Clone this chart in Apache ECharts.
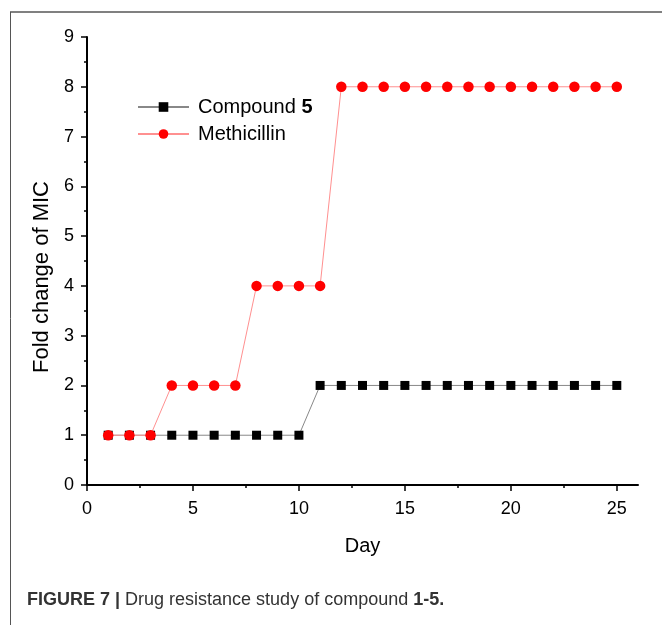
<!DOCTYPE html>
<html>
<head>
<meta charset="utf-8">
<script src="https://cdn.jsdelivr.net/npm/echarts@6/dist/echarts.min.js"></script>
<style>
  html, body { margin: 0; padding: 0; background: #fff; }
  #chart { width: 662px; height: 625px; }
</style>
</head>
<body>
<div id="chart"></div>
<script>
// days and fold change of MIC
var days = [1, 2, 3, 4, 5, 6, 7, 8, 9, 10, 11, 12, 13, 14, 15, 16, 17, 18, 19, 20, 21, 22, 23, 24, 25];
var compound5 = [1, 1, 1, 1, 1, 1, 1, 1, 1, 1, 2, 2, 2, 2, 2, 2, 2, 2, 2, 2, 2, 2, 2, 2, 2];
var methicillin = [1, 1, 1, 2, 2, 2, 2, 4, 4, 4, 4, 8, 8, 8, 8, 8, 8, 8, 8, 8, 8, 8, 8, 8, 8];
var xMajor = [0, 5, 10, 15, 20, 25];
var xMinor = [2.5, 7.5, 12.5, 17.5, 22.5];

function pairs(ys) {
    return days.map(function (d, i) { return [d, ys[i]]; });
}

var font = 'Liberation Sans, Arial, sans-serif';
var myChart = echarts.init(document.getElementById('chart'));

var option = {
    animation: false,
    backgroundColor: '#fff',
    textStyle: { fontFamily: font },
    grid: { left: 87, right: 24, top: 37, bottom: 140 },
    legend: {
        left: 132,
        top: 92,
        orient: 'vertical',
        itemWidth: 51,
        itemHeight: 12,
        itemGap: 7,
        data: ['Compound 5', 'Methicillin'],
        formatter: function (name) {
            if (name === 'Compound 5') return 'Compound {b|5}';
            return name;
        },
        textStyle: {
            fontSize: 20,
            color: '#000',
            fontFamily: font,
            padding: [0, 0, 0, 4],
            rich: { b: { fontSize: 20, fontWeight: 'bold', color: '#000', fontFamily: font } }
        }
    },
    xAxis: [
        {
            type: 'value',
            min: 0,
            max: 26,
            interval: 5,
            name: 'Day',
            nameLocation: 'middle',
            nameGap: 51,
            nameTextStyle: { fontSize: 20, color: '#000', fontFamily: font },
            axisLine: { onZero: false, lineStyle: { color: '#000', width: 2 } },
            axisTick: { length: 6, customValues: xMajor, lineStyle: { color: '#000', width: 1.5 } },
            axisLabel: { customValues: xMajor, fontSize: 18, color: '#000', margin: 15 },
            splitLine: { show: false }
        },
        {
            type: 'value',
            min: 0,
            max: 26,
            position: 'bottom',
            axisLine: { show: false },
            axisTick: { length: 3, customValues: xMinor, lineStyle: { color: '#000', width: 1.5 } },
            axisLabel: { show: false },
            splitLine: { show: false }
        }
    ],
    yAxis: {
        type: 'value',
        min: 0,
        max: 9,
        interval: 1,
        name: 'Fold change of MIC',
        nameLocation: 'middle',
        nameGap: 26,
        nameTextStyle: { fontSize: 22, color: '#000', fontFamily: font, padding: [0, 32, 0, 0] },
        axisLine: { show: true, onZero: false, lineStyle: { color: '#000', width: 2 } },
        axisTick: { length: 6, lineStyle: { color: '#000', width: 1.5 } },
        minorTick: { show: true, splitNumber: 2, length: 3, lineStyle: { color: '#000', width: 1.5 } },
        axisLabel: { fontSize: 18, color: '#000', margin: 13 },
        splitLine: { show: false }
    },
    graphic: [
        { type: 'line', shape: { x1: 10, y1: 12, x2: 662, y2: 12 }, style: { stroke: '#808080', lineWidth: 2 } },
        { type: 'line', shape: { x1: 10.5, y1: 12, x2: 10.5, y2: 625 }, style: { stroke: '#555', lineWidth: 1 } },
        {
            type: 'text',
            left: 27,
            top: 591,
            style: {
                text: '{b|FIGURE 7 |} Drug resistance study of compound {b|1-5.}',
                fontSize: 18,
                fontFamily: font,
                fill: '#333',
                rich: {
                    b: { fontSize: 18, fontWeight: 'bold', fontFamily: font, fill: '#333' }
                }
            }
        }
    ],
    series: [
        {
            name: 'Compound 5',
            type: 'line',
            data: pairs(compound5),
            symbol: 'rect',
            symbolSize: 9,
            itemStyle: { color: '#000' },
            lineStyle: { color: '#888', width: 1 },
            z: 3
        },
        {
            name: 'Methicillin',
            type: 'line',
            data: pairs(methicillin),
            symbol: 'circle',
            symbolSize: 10.5,
            itemStyle: { color: '#ff0000' },
            lineStyle: { color: '#ff9090', width: 1 },
            z: 4
        }
    ]
};

myChart.setOption(option);
</script>
</body>
</html>
